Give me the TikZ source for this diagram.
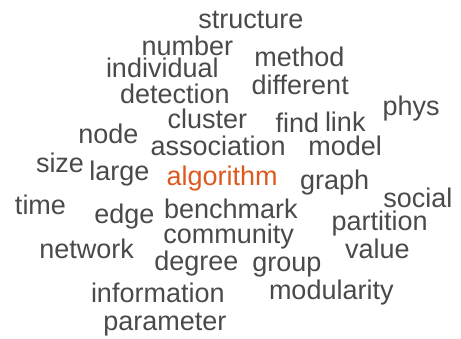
\documentclass[tikz,border=0pt]{standalone}
\usepackage{fontspec}
\setmainfont{Liberation Sans}
\definecolor{wgray}{HTML}{4A4A4A}
\definecolor{worange}{HTML}{DD5A1E}
\begin{document}
\begin{tikzpicture}[
  w/.style={anchor=base west, inner sep=0pt, outer sep=0pt, text=wgray, font=\fontsize{27}{30}\selectfont},
  hi/.style={w, text=worange}]
\useasboundingbox[fill=white] (0,0) rectangle (461pt,-338pt);
\node[w] (structure) at (198.3pt,-28.3pt) {structure};
\node[w] (number) at (141.7pt,-55pt) {number};
\node[w] (method) at (254.3pt,-66pt) {method};
\node[w] (individual) at (106pt,-77.3pt) {individual};
\node[w] (different) at (251.7pt,-94.3pt) {different};
\node[w] (detection) at (120pt,-103.3pt) {detection};
\node[w] (phys) at (382.7pt,-115pt) {phys};
\node[w] (cluster) at (167.7pt,-128.3pt) {cluster};
\node[w] (find) at (275.7pt,-132.7pt) {find};
\node[w] (link) at (325pt,-131.7pt) {link};
\node[w] (node) at (78.3pt,-143.3pt) {node};
\node[w] (association) at (150.7pt,-155.7pt) {association};
\node[w] (model) at (308.3pt,-155.7pt) {model};
\node[w] (size) at (36pt,-172.7pt) {size};
\node[w] (large) at (89.3pt,-180pt) {large};
\node[hi] (algorithm) at (166.7pt,-185pt) {algorithm};
\node[w] (graph) at (300pt,-189.3pt) {graph};
\node[w] (social) at (383.3pt,-207.7pt) {social};
\node[w] (time) at (15pt,-214.3pt) {time};
\node[w] (edge) at (94.3pt,-223.3pt) {edge};
\node[w] (benchmark) at (164pt,-218.3pt) {benchmark};
\node[w] (partition) at (331.7pt,-230pt) {partition};
\node[w] (community) at (163.3pt,-243.3pt) {community};
\node[w] (network) at (39.3pt,-258.3pt) {network};
\node[w] (value) at (345pt,-258.3pt) {value};
\node[w] (degree) at (154.3pt,-270pt) {degree};
\node[w] (group) at (252.3pt,-271.7pt) {group};
\node[w] (information) at (91pt,-302.7pt) {information};
\node[w] (modularity) at (269pt,-299.3pt) {modularity};
\node[w] (parameter) at (103.3pt,-330pt) {parameter};
\end{tikzpicture}
\end{document}
